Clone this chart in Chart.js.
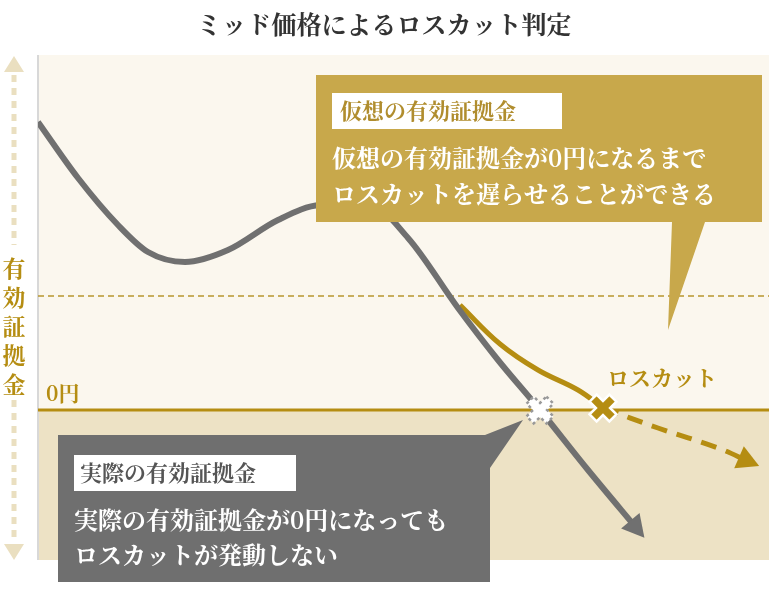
<!DOCTYPE html><html><head><meta charset="utf-8">
<script src="https://cdn.jsdelivr.net/npm/chart.js@4"></script>
<style>html,body{margin:0;background:#fff}#w{width:769px;height:603px}</style></head><body><div id="w"><canvas id="c"></canvas></div>
<script>
const titleText="ミッド価格によるロスカット判定";
const actualX=[0,40,80,110,147,190,240,282,330,370,420,460,502,550,600];
const actualY=[288,232,185,158,148,160,190,205,206,172,102,50,0,-60,-120];
const virtSolidX=[422,462,500,540,565];
const virtSolidY=[105,66,40,20,2];
const virtDashX=[565,620,680,712];
const virtDashY=[2,-18,-38,-52];
const marginLevel=114;
const zeroLevel=0;
const F='"Noto Serif CJK JP","Noto Sans CJK JP",serif';
const GOLD='#b58d12',GRAY='#707070';
function pts(xs,ys){return xs.map((x,i)=>({x,y:ys[i]}));}
function arrowHead(ctx,meta,color){const p=meta.data,a=p[p.length-1],b=p[p.length-2];const ang=Math.atan2(a.y-b.y,a.x-b.x);ctx.save();ctx.fillStyle=color;ctx.translate(a.x,a.y);ctx.rotate(ang);ctx.beginPath();ctx.moveTo(10,0);ctx.lineTo(-12,-12);ctx.lineTo(-12,12);ctx.closePath();ctx.fill();ctx.restore();}
function xMark(ctx,x,y,fill,stroke,dashed){ctx.save();ctx.translate(x,y);ctx.rotate(Math.PI/4);ctx.beginPath();const a=5,b=14;ctx.moveTo(-a,-b);ctx.lineTo(a,-b);ctx.lineTo(a,-a);ctx.lineTo(b,-a);ctx.lineTo(b,a);ctx.lineTo(a,a);ctx.lineTo(a,b);ctx.lineTo(-a,b);ctx.lineTo(-a,a);ctx.lineTo(-b,a);ctx.lineTo(-b,-a);ctx.lineTo(-a,-a);ctx.closePath();ctx.fillStyle=fill;ctx.fill();ctx.lineWidth=2.5;ctx.strokeStyle=stroke;if(dashed)ctx.setLineDash([3,3]);ctx.stroke();ctx.restore();}
const deco={id:'deco',
beforeDraw(c){const ctx=c.ctx,a=c.chartArea,y=c.scales.y,z=y.getPixelForValue(zeroLevel);ctx.save();ctx.fillStyle='#fbf7ee';ctx.fillRect(a.left,a.top,a.right-a.left,z-a.top);ctx.fillStyle='#ede2c5';ctx.fillRect(a.left,z,a.right-a.left,a.bottom-z);ctx.strokeStyle='#d8d8d8';ctx.lineWidth=2;ctx.beginPath();ctx.moveTo(a.left,a.top);ctx.lineTo(a.left,a.bottom);ctx.stroke();
ctx.strokeStyle='#b8962e';ctx.lineWidth=1.5;ctx.setLineDash([6,4]);const m=y.getPixelForValue(marginLevel);ctx.beginPath();ctx.moveTo(a.left,m);ctx.lineTo(a.right,m);ctx.stroke();ctx.setLineDash([]);ctx.strokeStyle=GOLD;ctx.lineWidth=3;ctx.beginPath();ctx.moveTo(a.left,z);ctx.lineTo(a.right,z);ctx.stroke();
ctx.fillStyle='#333';ctx.font='bold 25px '+F;ctx.textAlign='center';ctx.textBaseline='middle';ctx.fillText(titleText,384,24);
ctx.fillStyle=GOLD;ctx.font='bold 21px '+F;ctx.textAlign='left';ctx.fillText('0円',46,393);
const chars='有効証拠金';ctx.textAlign='center';ctx.font='bold 23px '+F;chars.split('').forEach((ch,i)=>ctx.fillText(ch,14,268+i*29));
ctx.strokeStyle='#eadfc0';ctx.lineWidth=5;ctx.setLineDash([7,6]);ctx.beginPath();ctx.moveTo(14,75);ctx.lineTo(14,245);ctx.moveTo(14,400);ctx.lineTo(14,540);ctx.stroke();ctx.setLineDash([]);ctx.fillStyle='#eadfc0';ctx.beginPath();ctx.moveTo(14,56);ctx.lineTo(4,72);ctx.lineTo(24,72);ctx.fill();ctx.beginPath();ctx.moveTo(14,560);ctx.lineTo(4,544);ctx.lineTo(24,544);ctx.fill();ctx.restore();},
afterDatasetsDraw(c){const ctx=c.ctx,x=c.scales.x,y=c.scales.y;arrowHead(ctx,c.getDatasetMeta(0),GRAY);arrowHead(ctx,c.getDatasetMeta(2),GOLD);
xMark(ctx,x.getPixelForValue(502),y.getPixelForValue(0),'#fff','#999',true);xMark(ctx,x.getPixelForValue(565),y.getPixelForValue(2),GOLD,'#fff',false);
ctx.save();ctx.fillStyle=GOLD;ctx.font='bold 22px '+F;ctx.textBaseline='middle';ctx.fillText('ロスカット',607,378);
ctx.fillStyle='#c8a84b';ctx.beginPath();ctx.moveTo(316,75);ctx.lineTo(762,75);ctx.lineTo(762,222);ctx.lineTo(705,222);ctx.lineTo(668,330);ctx.lineTo(672,222);ctx.lineTo(316,222);ctx.closePath();ctx.fill();
ctx.fillStyle='#fff';ctx.fillRect(332,93,230,36);ctx.fillStyle='#b08d2e';ctx.font='bold 22px '+F;ctx.fillText('仮想の有効証拠金',340,111);
ctx.fillStyle='#fff';ctx.font='bold 24px '+F;ctx.fillText('仮想の有効証拠金が0円になるまで',332,158);ctx.fillText('ロスカットを遅らせせることができる'.replace('せせ','せ'),332,194);
ctx.fillStyle='#6f6f6f';ctx.beginPath();ctx.moveTo(58,435);ctx.lineTo(485,435);ctx.lineTo(523,420);ctx.lineTo(490,468);ctx.lineTo(490,582);ctx.lineTo(58,582);ctx.closePath();ctx.fill();
ctx.fillStyle='#fff';ctx.fillRect(74,455,222,36);ctx.fillStyle='#555';ctx.font='bold 22px '+F;ctx.fillText('実際の有効証拠金',80,473);
ctx.fillStyle='#fff';ctx.font='bold 24px '+F;ctx.fillText('実際の有効証拠金が0円になっても',74,520);ctx.fillText('ロスカットが発動しない',74,555);ctx.restore();}};
new Chart(document.getElementById('c'),{type:'line',data:{datasets:[
{data:pts(actualX,actualY),borderColor:GRAY,borderWidth:6,tension:0.4,pointRadius:0,cubicInterpolationMode:'monotone'},
{data:pts(virtSolidX,virtSolidY),borderColor:GOLD,borderWidth:5,tension:0.4,pointRadius:0},
{data:pts(virtDashX,virtDashY),borderColor:GOLD,borderWidth:5,borderDash:[16,10],tension:0.4,pointRadius:0}]},
options:{responsive:true,maintainAspectRatio:false,animation:false,layout:{padding:{left:38,top:55,right:0,bottom:43}},
plugins:{legend:{display:false},tooltip:{enabled:false}},
scales:{x:{type:'linear',display:false,min:0,max:731},y:{display:false,min:-150,max:355}}},plugins:[deco]});
</script></body></html>
